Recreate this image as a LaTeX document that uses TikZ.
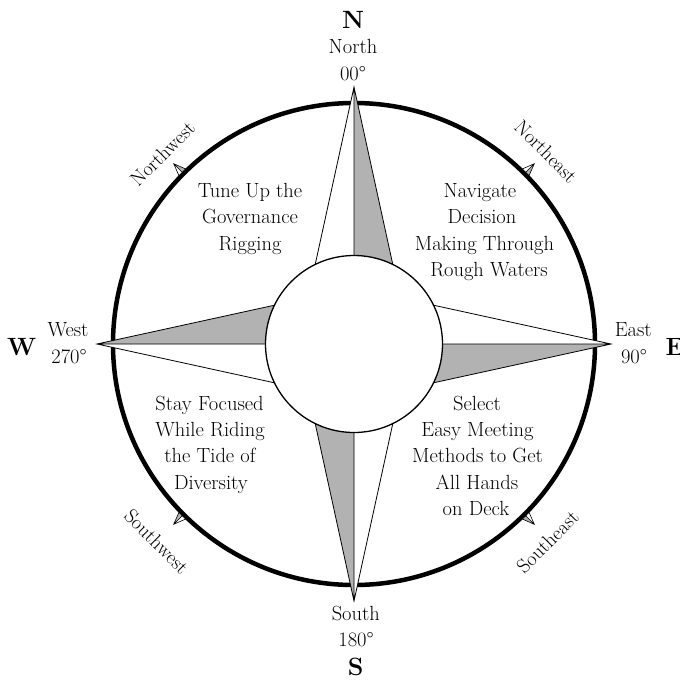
\documentclass[tikz,border=0pt]{standalone}
\usetikzlibrary{calc}
\definecolor{armgrey}{gray}{0.7}
\begin{document}
\begin{tikzpicture}[x=1pt,y=1pt,
  lbl/.style={font=\fontsize{20.5}{24}\selectfont, inner sep=0pt, anchor=base},
  big/.style={font=\fontsize{25}{28}\selectfont\bfseries, inner sep=0pt, anchor=base},
  rlbl/.style={font=\fontsize{20}{24}\selectfont, inner sep=0pt, anchor=center},
  armline/.style={line width=0.8pt, line join=miter},
  tickline/.style={line width=0.6pt, line join=miter}]
\useasboundingbox (0,0) rectangle (680,-681);
\coordinate (C) at (354,-344);

% intercardinal ticks
\foreach \a in {45,135,225,315}{
  \coordinate (t) at ($(C)+(\a:255)$);
  \coordinate (l) at ($(C)+(\a+1.3:241)$);
  \coordinate (r) at ($(C)+(\a-1.3:241)$);
  \coordinate (m) at ($(C)+(\a:241)$);
  \fill[white] (l) -- (t) -- (m) -- cycle;
  \fill[armgrey] (r) -- (t) -- (m) -- cycle;
  \draw[tickline] (l) -- (t) -- (r) (t) -- (m);
}

% outer ring
\draw[line width=4.5pt] (C) circle (241);

% main arms
\foreach \a in {90,0,-90,180}{
  \coordinate (t) at ($(C)+(\a:257)$);
  \coordinate (l) at ($(C)+(\a+26:88.5)$);
  \coordinate (r) at ($(C)+(\a-26:88.5)$);
  \fill[white] (t) -- (C) -- (l) -- cycle;
  \fill[armgrey] (t) -- (C) -- (r) -- cycle;
  \draw[armline] (l) -- (t) -- (r) (t) -- (C);
}

% inner circle
\draw[line width=1.3pt, fill=white] (C) circle (88.5);

% cardinal labels
\node[big] (N) at (353,-28.3) {N};
\node[lbl] (north) at (353,-53.3) {North};
\node[lbl] (n0) at (353,-80) {00°};

\node[big] (S) at (355.7,-675) {S};
\node[lbl] (south) at (355.8,-620) {South};
\node[lbl] (s0) at (356,-646.7) {180°};

\node[big] (W) at (21.7,-355) {W};
\node[lbl] (west) at (68,-336.7) {West};
\node[lbl] (w0) at (69,-363.3) {270°};

\node[big, anchor=base west] (E) at (665.5,-355) {E};
\node[lbl] (east) at (633.3,-336.7) {East};
\node[lbl] (e0) at (634,-363) {90°};

% intercardinal labels
\node[rlbl, rotate=45] (nw) at (162.5,-153.5) {Northwest};
\node[rlbl, rotate=-45] (ne) at (546,-151.7) {Northeast};
\node[rlbl, rotate=-45] (sw) at (156.7,-541.7) {Southwest};
\node[rlbl, rotate=45] (se) at (547.5,-541.7) {Southeast};

% quadrant texts
\node[lbl] (nw1) at (250,-197) {Tune Up the};
\node[lbl] (nw2) at (250,-223.5) {Governance};
\node[lbl] (nw3) at (250,-250) {Rigging};

\node[lbl] (ne1) at (480,-197) {Navigate};
\node[lbl] (ne2) at (482,-223.5) {Decision};
\node[lbl] (ne3) at (484.5,-250) {Making Through};
\node[lbl] (ne4) at (489,-276.3) {Rough Waters};

\node[lbl] (sw1) at (209.5,-410.3) {Stay Focused};
\node[lbl] (sw2) at (210,-436.7) {While Riding};
\node[lbl] (sw3) at (210,-462.7) {the Tide of};
\node[lbl] (sw4) at (211,-489) {Diversity};

\node[lbl] (se1) at (477,-410.7) {Select};
\node[lbl] (se2) at (477.5,-436.7) {Easy Meeting};
\node[lbl] (se3) at (477.5,-462.7) {Methods to Get};
\node[lbl] (se4) at (477,-489) {All Hands};
\node[lbl] (se5) at (476,-515.5) {on Deck};
\end{tikzpicture}
\end{document}
